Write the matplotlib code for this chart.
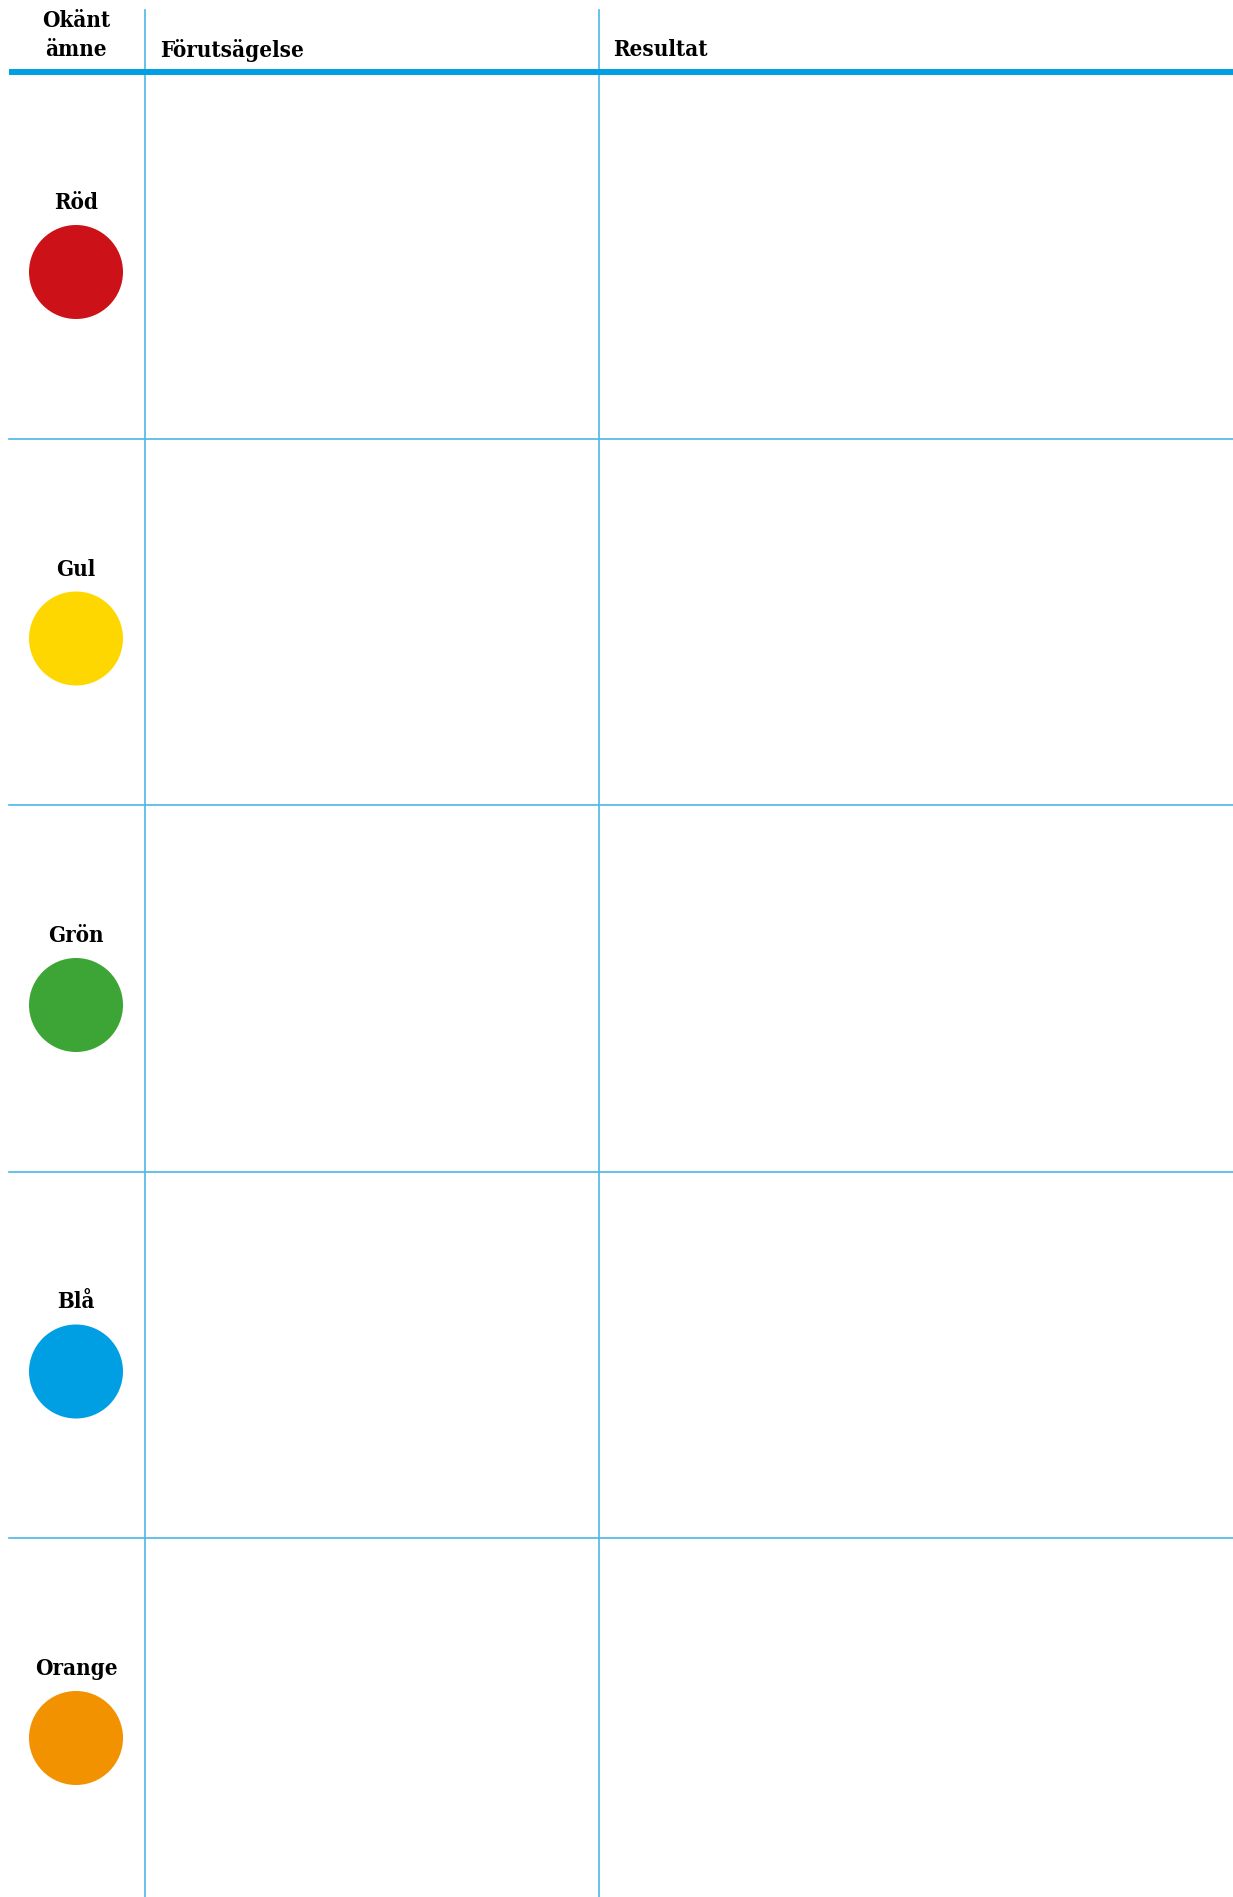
import matplotlib.pyplot as plt
from matplotlib.patches import Circle

# rows of the worksheet
substances = ["Röd", "Gul", "Grön", "Blå", "Orange"]
dot_colors = ["#CD1118", "#FFD700", "#3DA535", "#009FE3", "#F39200"]
headers = ["Okänt\nämne", "Förutsägelse", "Resultat"]

W, H = 1233, 1897
line_col = "#4DB6E8"
head_col = "#009FE3"
font = dict(family="DejaVu Serif", fontweight="bold", fontstretch="condensed")

fig = plt.figure(figsize=(W / 100, H / 100), dpi=100)
ax = fig.add_axes([0, 0, 1, 1])
ax.set_xlim(0, W)
ax.set_ylim(H, 0)
ax.axis("off")

left, col1, col2 = 9, 145, 599
top, head_y = 10, 72
row_h = 366.5
fs = 16

# column separators
for x in (col1, col2):
    ax.plot([x, x], [top, H], color=line_col, lw=1.2)

# header rule
ax.plot([left, W], [head_y, head_y], color=head_col, lw=4.3, solid_capstyle="butt")

for k, part in enumerate(headers[0].split("\n")):
    ax.text(76, 21 + k * 29, part, ha="center", va="center", fontsize=fs, **font)
ax.text(160, 50, headers[1], ha="left", va="center", fontsize=fs, **font)
ax.text(613, 50, headers[2], ha="left", va="center", fontsize=fs, **font)

for i, (name, c) in enumerate(zip(substances, dot_colors)):
    y0 = head_y + i * row_h
    if i > 0:
        ax.plot([left, W], [y0, y0], color=line_col, lw=1.2)
    ax.text(76, y0 + 131, name, ha="center", va="center", fontsize=fs, **font)
    ax.add_patch(Circle((76, y0 + 200), 47, color=c, lw=0))

fig.savefig("out.png", dpi=100)
